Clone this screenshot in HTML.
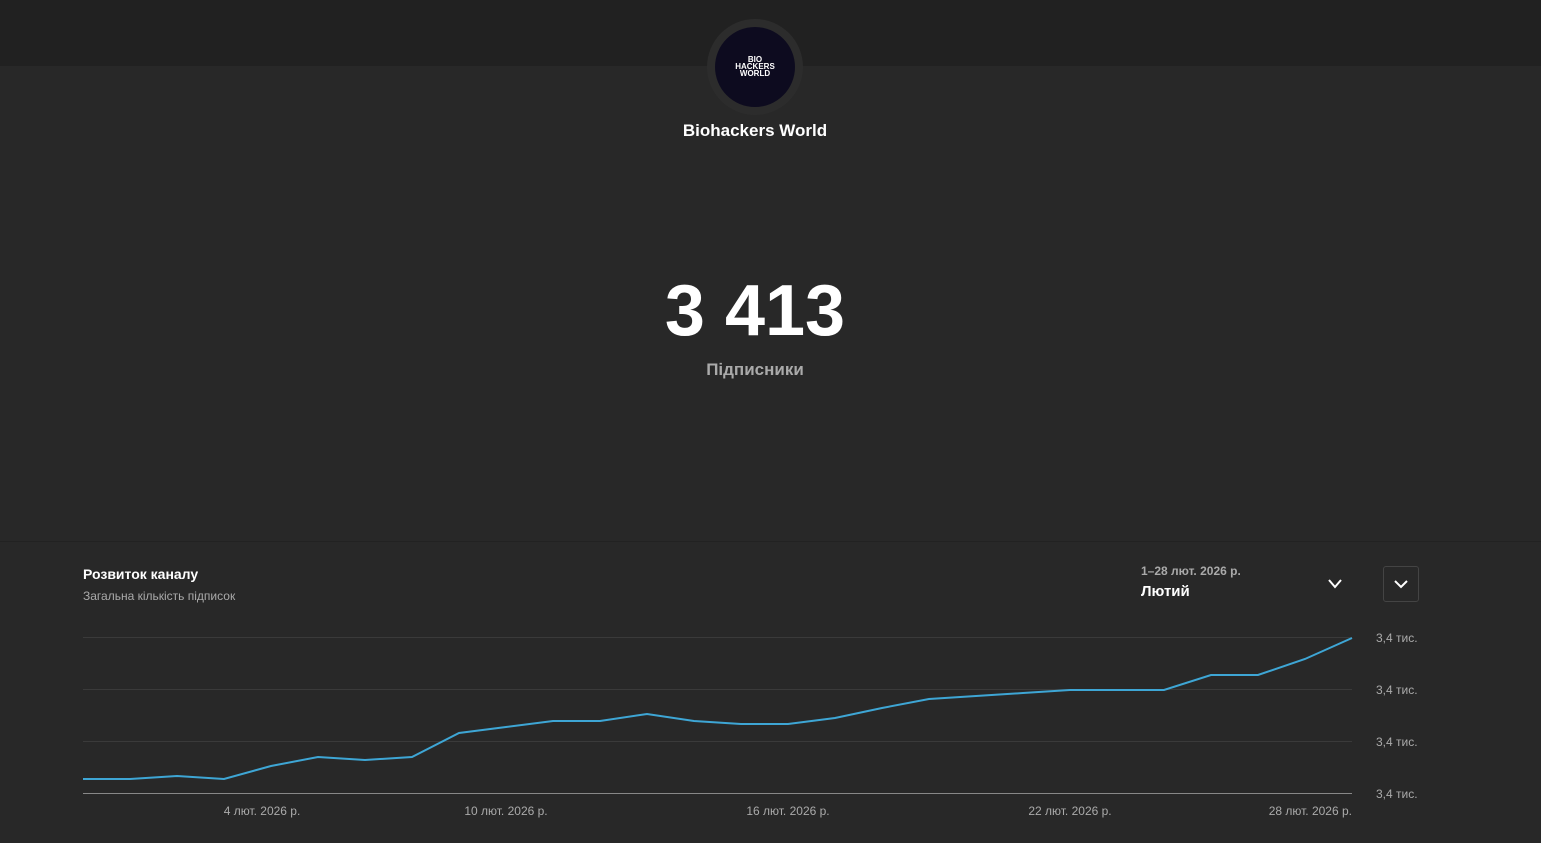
<!DOCTYPE html>
<html><head><meta charset="utf-8"><style>
body{margin:0;width:1541px;height:843px;background:#282828;font-family:"Liberation Sans",sans-serif;position:relative;overflow:hidden}
.top{position:absolute;left:0;top:0;width:1541px;height:66px;background:#212121}
.div{position:absolute;left:0;top:541px;width:1541px;height:1px;background:#222}
.t{position:absolute;white-space:nowrap}
</style></head><body>
<div class="top"></div>
<div style="position:absolute;left:707px;top:19px;width:96px;height:96px;border-radius:50%;background:#2c2c2c"></div>
<div style="position:absolute;left:715px;top:27px;width:80px;height:80px;border-radius:50%;background:#0d0b1f;color:#fff;font-size:8px;font-weight:bold;text-align:center;line-height:7px;box-sizing:border-box;padding-top:29px">BIO<br>HACKERS<br>WORLD</div>
<div class="t" style="left:0;width:1510px;text-align:center;top:121px;color:#fff;font-size:17px;font-weight:bold">Biohackers World</div>
<div class="t" style="left:0;width:1510px;text-align:center;top:270px;color:#fff;font-size:72px;font-weight:bold">3 413</div>
<div class="t" style="left:0;width:1510px;text-align:center;top:360px;color:#aaa;font-size:17px;font-weight:bold">Підписники</div>
<div class="div"></div>
<div class="t" style="left:83px;top:566px;color:#fff;font-size:14px;font-weight:bold">Розвиток каналу</div>
<div class="t" style="left:83px;top:589px;color:#aaa;font-size:12px">Загальна кількість підписок</div>
<div class="t" style="left:1141px;top:564px;color:#aaa;font-size:12px;font-weight:bold">1–28 лют. 2026 р.</div>
<div class="t" style="left:1141px;top:583px;color:#fff;font-size:15px;font-weight:bold">Лютий</div>
<div style="position:absolute;left:1383px;top:566px;width:34px;height:34px;border:1px solid #444;border-radius:3px"></div>
<svg width="1541" height="843" style="position:absolute;left:0;top:0">
<polyline points="1329,580 1335,587 1341,580" fill="none" stroke="#fff" stroke-width="2"/>
<polyline points="1395,581 1401,587 1407,581" fill="none" stroke="#fff" stroke-width="2"/>
<g stroke="#3a3a3a" stroke-width="1"><line x1="83" y1="637.5" x2="1352" y2="637.5"/><line x1="83" y1="689.5" x2="1352" y2="689.5"/><line x1="83" y1="741.5" x2="1352" y2="741.5"/></g>
<line x1="83" y1="793.5" x2="1352" y2="793.5" stroke="#888"/>
<polyline fill="none" stroke="#3ea6d5" stroke-width="2" points="83,779 130,779 177,776 224,779 271,766 318,757 365,760 412,757 459,733 506,727 553,721 600,721 647,714 694,721 741,724 788,724 835,718 882,708 929,699 976,696 1023,693 1070,690 1117,690 1164,690 1211,675 1258,675 1305,659 1352,638"/>
<g fill="#aaa" font-size="12" font-family="Liberation Sans,sans-serif">
<text x="1376" y="642">3,4 тис.</text><text x="1376" y="694">3,4 тис.</text><text x="1376" y="746">3,4 тис.</text><text x="1376" y="798">3,4 тис.</text>
<text x="262" y="815" text-anchor="middle">4 лют. 2026 р.</text>
<text x="506" y="815" text-anchor="middle">10 лют. 2026 р.</text>
<text x="788" y="815" text-anchor="middle">16 лют. 2026 р.</text>
<text x="1070" y="815" text-anchor="middle">22 лют. 2026 р.</text>
<text x="1352" y="815" text-anchor="end">28 лют. 2026 р.</text>
</g></svg>
</body></html>
